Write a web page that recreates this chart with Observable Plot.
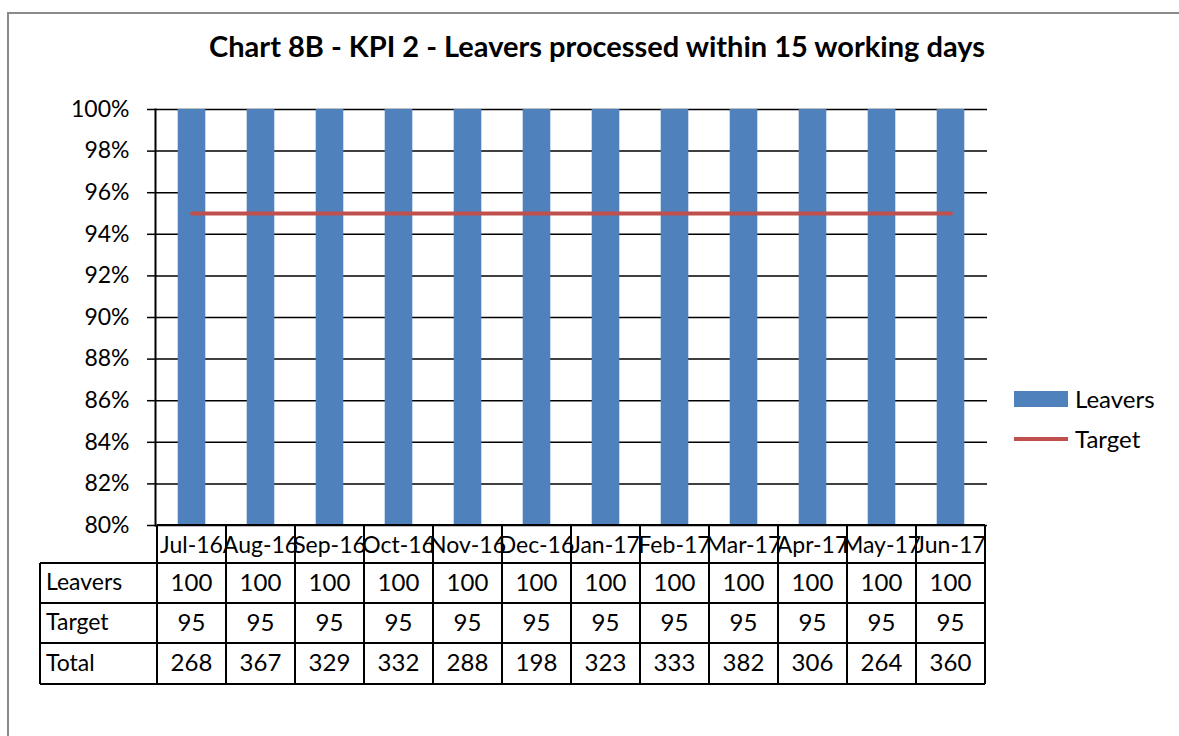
<!DOCTYPE html>
<html>
<head>
<meta charset="utf-8">
<script src="https://cdn.jsdelivr.net/npm/d3@7"></script>
<script src="https://cdn.jsdelivr.net/npm/@observablehq/plot@0.6"></script>
<style>
  html, body { margin: 0; padding: 0; background: #fff; }
  body { width: 1179px; height: 736px; overflow: hidden; font-family: Lato, "Open Sans", sans-serif; }
  #wrap { position: relative; width: 1179px; height: 736px; }
  #border { position: absolute; left: 7px; top: 12px; width: 1300px; height: 800px;
            border-left: 2px solid #8a8a8a; border-top: 2px solid #8a8a8a; }
  #title { position: absolute; top: 28px; left: 597px; transform: translateX(-50%);
           white-space: nowrap; font-weight: bold; font-size: 29px; color: #000; }
  #chart { position: absolute; left: 0; top: 0; }
  .legend { position: absolute; left: 1014px; font-size: 24px; color: #000; display: flex; align-items: center; }
  .legend .sw { display: inline-block; width: 54px; margin-right: 7px; }
</style>
</head>
<body>
<div id="wrap">
  <div id="border"></div>
  <div id="chart"></div>
  <div id="title">Chart 8B - KPI 2 - Leavers processed within 15 working days</div>
  <div class="legend" style="top:384px"><span class="sw" style="height:16px;background:#4F81BD"></span>Leavers</div>
  <div class="legend" style="top:424px"><span class="sw" style="height:4px;background:#C0504D"></span>Target</div>
</div>
<script>
const months = ["Jul-16","Aug-16","Sep-16","Oct-16","Nov-16","Dec-16","Jan-17","Feb-17","Mar-17","Apr-17","May-17","Jun-17"];
const leavers = [100,100,100,100,100,100,100,100,100,100,100,100];
const target = [95,95,95,95,95,95,95,95,95,95,95,95];
const totals = [268,367,329,332,288,198,323,333,382,306,264,360];
const yTicks = [80,82,84,86,88,90,92,94,96,98,100];
const rowNames = ["Leavers","Target","Total"];

const data = months.map((m, i) => ({month: m, leavers: leavers[i], target: target[i], total: totals[i]}));
const rows = [leavers, target, totals];

const FONT = "Lato, 'Open Sans', sans-serif";

function tableMark(index, scales, values, dimensions) {
  const x = scales.x, y = scales.y;
  const bw = x.bandwidth();
  const y0 = y(80);
  const rowH = [38, 40, 40, 41];
  const rowTop = [y0];
  for (let i = 0; i < rowH.length; i++) rowTop.push(rowTop[i] + rowH[i]);
  const xLeft = x(months[0]);
  const xRight = x(months[months.length - 1]) + bw;
  const labelLeft = xLeft - 117;
  const g = d3.create("svg:g").attr("font-family", FONT).attr("fill", "#000");
  const lines = g.append("g").attr("stroke", "#000").attr("stroke-width", 2);
  rowTop.forEach((t, i) => {
    lines.append("line").attr("x1", i === 0 ? xLeft : labelLeft).attr("x2", xRight).attr("y1", t).attr("y2", t);
  });
  months.forEach((m) => {
    lines.append("line").attr("x1", x(m)).attr("x2", x(m)).attr("y1", rowTop[0]).attr("y2", rowTop[4]);
  });
  lines.append("line").attr("x1", xRight).attr("x2", xRight).attr("y1", rowTop[0]).attr("y2", rowTop[4]);
  lines.append("line").attr("x1", labelLeft).attr("x2", labelLeft).attr("y1", rowTop[1]).attr("y2", rowTop[4]);
  months.forEach((m) => {
    g.append("text").attr("x", x(m) + bw / 2).attr("y", rowTop[0] + rowH[0] / 2 + 1)
      .attr("text-anchor", "middle").attr("dy", "0.36em").attr("font-size", 23).text(m);
  });
  rowNames.forEach((name, r) => {
    const cy = rowTop[r + 1] + rowH[r + 1] / 2 - 1;
    g.append("text").attr("x", labelLeft + 6).attr("y", cy).attr("dy", "0.36em")
      .attr("text-anchor", "start").attr("font-size", 23).text(name);
    months.forEach((m, i) => {
      g.append("text").attr("x", x(m) + bw / 2).attr("y", cy).attr("dy", "0.36em")
        .attr("text-anchor", "middle").attr("font-size", 24).text(rows[r][i]);
    });
  });
  return g.node();
}

const plot = Plot.plot({
  width: 1179,
  height: 736,
  marginLeft: 155,
  marginRight: 192,
  marginTop: 109,
  marginBottom: 211,
  style: {fontFamily: FONT, background: "transparent", overflow: "visible"},
  x: {type: "band", domain: months, padding: 0, axis: null},
  y: {domain: [80, 100], ticks: yTicks, tickFormat: d => d + "%"},
  marks: [
    Plot.gridY(yTicks, {stroke: "#000", strokeOpacity: 1, strokeWidth: 1.5}),
    Plot.barY(data, {x: "month", y1: 80, y2: "leavers", fill: "#4F81BD", insetLeft: 20.7, insetRight: 20.7}),
    Plot.lineY(data, {x: "month", y: "target", stroke: "#C0504D", strokeWidth: 4}),
    Plot.axisY(yTicks, {tickFormat: d => d + "%", tickSize: 8, tickPadding: 18, fontSize: 23, stroke: "#000", strokeWidth: 1.5}),
    Plot.frame({anchor: "left", stroke: "#000", strokeWidth: 2}),
    tableMark
  ]
});
document.getElementById("chart").appendChild(plot);
</script>
</body>
</html>
